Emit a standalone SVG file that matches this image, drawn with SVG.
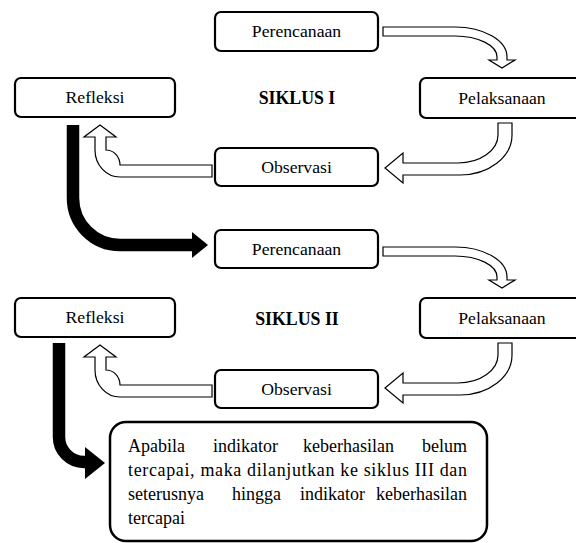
<svg xmlns="http://www.w3.org/2000/svg" width="576" height="543" viewBox="0 0 576 543">
<style>
.box{fill:#fff;stroke:#000;stroke-width:2.2}
.lbl{font-family:'Liberation Serif','Times New Roman',Times,'DejaVu Serif',serif;font-size:17.7px;fill:#000;text-anchor:middle}
.ttl{font-family:'Liberation Serif','Times New Roman',Times,'DejaVu Serif',serif;font-size:17.8px;font-weight:bold;fill:#000;text-anchor:middle}
.body{font-family:'Liberation Serif','Times New Roman',Times,'DejaVu Serif',serif;font-size:18px;fill:#000}
.hol{fill:#fff;stroke:#000;stroke-width:1.2;stroke-linejoin:miter}
.blk{fill:none;stroke:#000;stroke-width:12.5}
</style>
<rect width="576" height="543" fill="#fff"/>
<g id="connectors">
  <g id="cycle1-arrows">
    <path class="hol" d="M383 27 H455 A52 30 0 0 1 507 57 V60 H515 L502 68 L489 60 H497 V57 A42 21 0 0 0 455 36 H383 Z"/>
    <path class="hol" d="M498 123 H512 V135 A52 40 0 0 1 460 175 H403 V183 L385 168 L403 153 V163 H458 A40 28 0 0 0 498 135 Z"/>
    <path class="hol" d="M212 165 H120 A14 15 0 0 0 106 150 V137 H116 L100 125 L84 137 H95 V150 A25 27 0 0 0 120 177 H212 Z"/>
  </g>
  <g id="cycle2-arrows" transform="translate(0,220)">
    <path class="hol" d="M383 27 H455 A52 30 0 0 1 507 57 V60 H515 L502 68 L489 60 H497 V57 A42 21 0 0 0 455 36 H383 Z"/>
    <path class="hol" d="M498 123 H512 V135 A52 40 0 0 1 460 175 H403 V183 L385 168 L403 153 V163 H458 A40 28 0 0 0 498 135 Z"/>
    <path class="hol" d="M212 165 H120 A14 15 0 0 0 106 150 V137 H116 L100 125 L84 137 H95 V150 A25 27 0 0 0 120 177 H212 Z"/>
  </g>
  <path class="blk" d="M73 125 V198 A47 47 0 0 0 120 245 H194"/>
  <polygon points="192,232 208,245 192,258" fill="#000"/>
  <path class="blk" d="M59 343 V437 A25 25 0 0 0 84 462 H88"/>
  <polygon points="85,447 105,463 85,479" fill="#000"/>
</g>
<g id="siklus1-title"><text class="ttl" x="297" y="104">SIKLUS I</text></g>
<g id="siklus2-title"><text class="ttl" x="297" y="325">SIKLUS II</text></g>
<g id="perencanaan1"><rect class="box" x="215" y="12" width="163" height="39" rx="6"/><text class="lbl" x="296.5" y="37">Perencanaan</text></g>
<g id="pelaksanaan1"><rect class="box" x="420" y="78" width="164" height="40" rx="6"/><text class="lbl" x="502" y="104">Pelaksanaan</text></g>
<g id="observasi1"><rect class="box" x="215" y="148" width="163" height="38" rx="6"/><text class="lbl" x="296.5" y="173">Observasi</text></g>
<g id="refleksi1"><rect class="box" x="15" y="78" width="160" height="39" rx="6"/><text class="lbl" x="95" y="103">Refleksi</text></g>
<g id="perencanaan2"><rect class="box" x="215" y="230" width="163" height="38" rx="6"/><text class="lbl" x="296.5" y="255">Perencanaan</text></g>
<g id="pelaksanaan2"><rect class="box" x="420" y="298" width="164" height="40" rx="6"/><text class="lbl" x="502" y="324">Pelaksanaan</text></g>
<g id="observasi2"><rect class="box" x="215" y="370" width="163" height="38" rx="6"/><text class="lbl" x="296.5" y="395">Observasi</text></g>
<g id="refleksi2"><rect class="box" x="15" y="298" width="160" height="39" rx="6"/><text class="lbl" x="95" y="323">Refleksi</text></g>
<g id="note">
  <rect class="box" x="110" y="422" width="377" height="119" rx="16" style="stroke-width:2.5"/>
  <text class="body" y="452"><tspan x="128">Apabila</tspan><tspan x="213">indikator</tspan><tspan x="303">keberhasilan</tspan><tspan x="467" text-anchor="end">belum</tspan></text>
  <text class="body" x="128" y="476" textLength="339" lengthAdjust="spacing">tercapai, maka dilanjutkan ke siklus III dan</text>
  <text class="body" y="500"><tspan x="128">seterusnya</tspan><tspan x="232">hingga</tspan><tspan x="300">indikator</tspan><tspan x="467" text-anchor="end">keberhasilan</tspan></text>
  <text class="body" x="128" y="524">tercapai</text>
</g>
</svg>
